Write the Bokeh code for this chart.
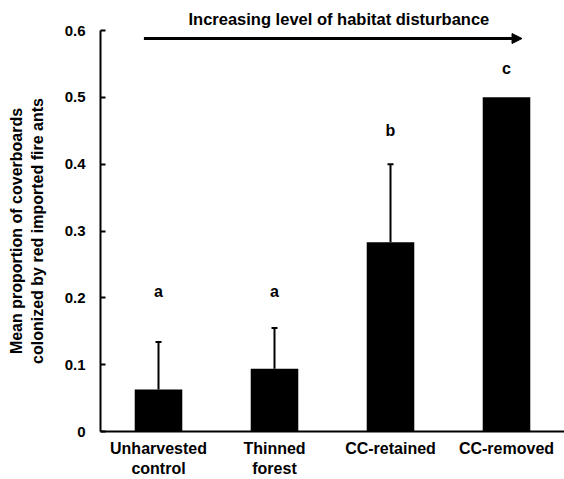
from bokeh.plotting import figure
from bokeh.models import (Range1d, FixedTicker, ColumnDataSource, LinearAxis,
                          Whisker, TeeHead, Arrow, NormalHead, LabelSet)
from bokeh.core.properties import value
from bokeh.embed import file_html
from bokeh.resources import INLINE

# ---- data ----
categories = ["Unharvested control", "Thinned forest", "CC-retained", "CC-removed"]
label_line1 = ["Unharvested", "Thinned", "CC-retained", "CC-removed"]
label_line2 = ["control", "forest", "", ""]
means = [0.063, 0.094, 0.283, 0.500]
errors = [0.071, 0.061, 0.117, 0.0]
letters = ["a", "a", "b", "c"]
letter_y = [0.21, 0.21, 0.45, 0.543]
y_ticks = [0, 0.1, 0.2, 0.3, 0.4, 0.5, 0.6]
y_tick_labels = ["0", "0.1", "0.2", "0.3", "0.4", "0.5", "0.6"]

FONT = "Liberation Sans"

# category slot centres on a numeric axis (slot i spans i..i+1)
xpos = [i + 0.5 for i in range(len(categories))]

src = ColumnDataSource(dict(
    x=xpos,
    mean=means,
    letter=letters,
    ly=letter_y,
))

# error bars only where there is a non-zero error
err_idx = [i for i, e in enumerate(errors) if e > 0]
err_src = ColumnDataSource(dict(
    x=[xpos[i] for i in err_idx],
    mean=[means[i] for i in err_idx],
    upper=[means[i] + errors[i] for i in err_idx],
))

p = figure(
    x_range=Range1d(0, len(categories)),
    y_range=Range1d(0, 0.6),
    width=564, height=479,
    output_backend="svg", toolbar_location=None,
    min_border_left=100, min_border_right=0, min_border_bottom=45, min_border_top=30,
)
p.outline_line_color = None
p.grid.grid_line_color = None
p.background_fill_color = "white"

p.vbar(x="x", top="mean", width=0.41, source=src, fill_color="black", line_color=None)

wh = Whisker(base="x", upper="upper", lower="mean", source=err_src,
             line_color="black", line_width=2,
             upper_head=TeeHead(size=6, line_color="black", line_width=2),
             lower_head=None)
p.add_layout(wh)

p.add_layout(LabelSet(x="x", y="ly", text="letter", source=src,
                      text_align="center", text_baseline="middle",
                      text_font=value(FONT), text_font_style="bold",
                      text_font_size="16px", text_color="black"))

p.add_layout(Arrow(end=NormalHead(size=10, fill_color="black", line_color="black"),
                   x_start=0.374, y_start=0.588, x_end=3.634, y_end=0.588,
                   line_color="black", line_width=3))

# title
p.title.text = "Increasing level of habitat disturbance"
p.title.align = "left"
p.title.offset = 88
p.title.text_font = FONT
p.title.text_font_style = "bold"
p.title.text_font_size = "16.5px"
p.title.text_color = "black"
p.title.standoff = 6

# y axis
ya = p.yaxis[0]
ya.ticker = FixedTicker(ticks=y_ticks)
ya.major_label_overrides = {t: l for t, l in zip(y_ticks, y_tick_labels)}
ya.major_tick_in = 5
ya.major_tick_out = 0
ya.major_tick_line_width = 2
ya.minor_tick_line_color = None
ya.axis_line_width = 2
ya.axis_line_color = "black"
ya.major_tick_line_color = "black"
ya.major_label_standoff = 15
ya.major_label_text_font = FONT
ya.major_label_text_font_style = "bold"
ya.major_label_text_font_size = "15px"
ya.major_label_text_color = "black"
ya.axis_label = "Mean proportion of coverboards\ncolonized by red imported fire ants"
ya.axis_label_text_font = FONT
ya.axis_label_text_font_style = "bold"
ya.axis_label_text_font_size = "16px"
ya.axis_label_text_color = "black"
ya.axis_label_standoff = 16

# x axis: first label line
xa = p.xaxis[0]
xa.ticker = FixedTicker(ticks=xpos)
xa.major_label_overrides = {x: t for x, t in zip(xpos, label_line1)}
xa.major_tick_line_color = None
xa.major_tick_in = 0
xa.major_tick_out = 0
xa.minor_tick_line_color = None
xa.axis_line_width = 2
xa.axis_line_color = "black"
xa.major_label_standoff = 8
xa.major_label_text_font = FONT
xa.major_label_text_font_style = "bold"
xa.major_label_text_font_size = "16px"
xa.major_label_text_color = "black"

# x axis: second label line
xa2 = LinearAxis(
    ticker=FixedTicker(ticks=xpos),
    major_label_overrides={x: t for x, t in zip(xpos, label_line2)},
    axis_line_color=None, major_tick_line_color=None, minor_tick_line_color=None,
    major_tick_in=0, major_tick_out=0,
    major_label_standoff=0,
    major_label_text_font=FONT, major_label_text_font_style="bold",
    major_label_text_font_size="16px",
    major_label_text_color="black",
)
p.add_layout(xa2, "below")

open("out.html", "w").write(file_html(p, INLINE))
